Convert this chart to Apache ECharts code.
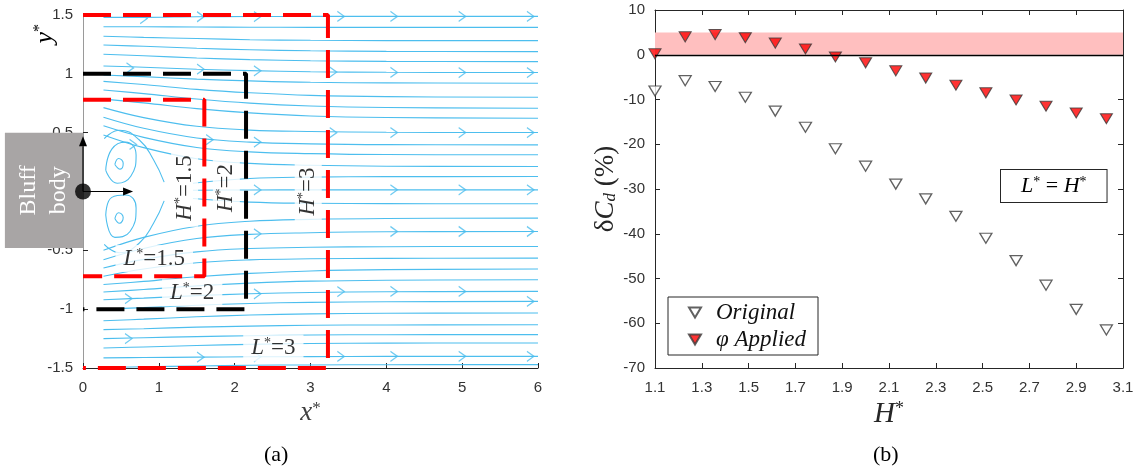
<!DOCTYPE html>
<html><head><meta charset="utf-8">
<script src="https://cdn.jsdelivr.net/npm/echarts@6/dist/echarts.min.js"></script>
<style>html,body{margin:0;padding:0;background:#fff}#c{width:1143px;height:475px}</style>
</head><body><div id="c"></div>
<script>
// ================= DATA =================
// ---- Panel (a): streamlines (x* , y*) ----
const streamX = [0.27, 0.8, 1.5, 2.2, 3.0, 4.0, 6.0];
const upperStreams = [
  [1.480, 1.480, 1.485, 1.487, 1.488, 1.488, 1.488],
  [1.400, 1.400, 1.398, 1.396, 1.395, 1.395, 1.395],
  [1.320, 1.310, 1.300, 1.290, 1.285, 1.282, 1.282],
  [1.245, 1.234, 1.217, 1.205, 1.196, 1.191, 1.189],
  [1.166, 1.154, 1.135, 1.121, 1.111, 1.106, 1.104],
  [1.067, 1.056, 1.039, 1.027, 1.018, 1.013, 1.011],
  [0.990, 0.976, 0.955, 0.940, 0.928, 0.923, 0.920],
  [0.936, 0.909, 0.868, 0.839, 0.817, 0.806, 0.801],
  [0.863, 0.832, 0.786, 0.751, 0.727, 0.714, 0.708],
  [0.785, 0.753, 0.704, 0.668, 0.642, 0.629, 0.623],
  [0.713, 0.628, 0.554, 0.522, 0.510, 0.503, 0.501],
  [0.631, 0.537, 0.455, 0.420, 0.405, 0.398, 0.396],
  [0.558, 0.460, 0.374, 0.337, 0.322, 0.314, 0.312],
  [0.481, 0.373, 0.279, 0.239, 0.223, 0.215, 0.212]
];
const lowerStreams = [
  [-1.494, -1.490, -1.483, -1.477, -1.474, -1.472, -1.471],
  [-1.414, -1.411, -1.408, -1.405, -1.403, -1.401, -1.401],
  [-1.330, -1.321, -1.309, -1.299, -1.292, -1.289, -1.287],
  [-1.250, -1.243, -1.233, -1.226, -1.220, -1.217, -1.216],
  [-1.174, -1.166, -1.153, -1.144, -1.137, -1.134, -1.132],
  [-1.098, -1.085, -1.065, -1.050, -1.040, -1.035, -1.032],
  [-1.000, -0.987, -0.967, -0.952, -0.942, -0.937, -0.934],
  [-0.920, -0.906, -0.885, -0.869, -0.858, -0.852, -0.849],
  [-0.854, -0.833, -0.802, -0.779, -0.762, -0.754, -0.750],
  [-0.790, -0.764, -0.725, -0.696, -0.675, -0.664, -0.659],
  [-0.720, -0.658, -0.605, -0.581, -0.572, -0.568, -0.566],
  [-0.650, -0.577, -0.513, -0.485, -0.474, -0.469, -0.467],
  [-0.580, -0.484, -0.400, -0.364, -0.350, -0.342, -0.340],
  [-0.500, -0.390, -0.295, -0.253, -0.237, -0.229, -0.226]
];
const centerX = [1.45, 2.2, 3.0, 4.0, 6.0];
const centerStreams = [
  [0.070, 0.110, 0.122, 0.126, 0.127],
  [0.010, 0.013, 0.014, 0.014, 0.014],
  [-0.060, -0.090, -0.100, -0.103, -0.104]
];
const vortexCurves = [
  [[0.42,0.23],[0.47,0.28],[0.53,0.24],[0.49,0.19],[0.42,0.23]],
  [[0.30,0.18],[0.38,0.36],[0.56,0.42],[0.70,0.31],[0.63,0.13],[0.45,0.07],[0.30,0.18]],
  [[0.28,0.45],[0.48,0.52],[0.74,0.44],[0.93,0.27],[1.07,0.08]],
  [[0.42,-0.23],[0.47,-0.18],[0.53,-0.22],[0.48,-0.27],[0.42,-0.23]],
  [[0.30,-0.20],[0.38,-0.05],[0.56,-0.03],[0.70,-0.14],[0.62,-0.34],[0.42,-0.39],[0.30,-0.20]],
  [[0.28,-0.45],[0.48,-0.52],[0.74,-0.44],[0.93,-0.27],[1.07,-0.08]]
];
const arrowPoints = [
  [0.80,1.47],[1.55,1.485],[2.30,1.487],[3.40,1.488],[4.10,1.488],[5.00,1.488],[5.90,1.488],
  [0.62,1.05],[1.55,1.04],[2.30,1.026],[3.30,1.015],[4.10,1.012],[5.00,1.011],[5.90,1.011],
  [0.66,0.40],[1.67,0.44],[2.30,0.42],[3.30,0.50],[4.10,0.501],[5.00,0.501],[5.90,0.501],
  [2.30,0.013],[4.10,0.014],[5.00,0.014],[5.90,0.014],
  [2.30,-0.36],[4.10,-0.34],[5.00,-0.34],[5.90,-0.34],
  [0.60,-0.91],[2.30,-0.87],[3.40,-0.85],[4.10,-0.849],[5.00,-0.849],[5.90,-0.934],
  [0.60,-1.25],[1.55,-1.408],[2.30,-1.405],[3.40,-1.402],[4.10,-1.401],[5.00,-1.401],[5.90,-1.401]
];
// control-volume boxes (x*, y*)
const boxH15 = [[0,0.78],[1.60,0.78],[1.60,-0.72],[0,-0.72]];
const boxH2  = [[0,1.00],[2.15,1.00],[2.15,-1.00],[0,-1.00]];
const boxH3  = [[0,1.50],[3.23,1.50],[3.23,-1.50],[0,-1.50]];
const bluffBody = [[-1.03, 0.50, 0, -0.48]];
const originPoint = [[0, 0]];
const axisArrowEnds = [[0.66, 0], [0, 0.47]];

// ---- Panel (b) ----
const Hstar = [1.1, 1.229, 1.357, 1.486, 1.614, 1.743, 1.871, 2.0, 2.129, 2.257, 2.386, 2.514, 2.643, 2.771, 2.9, 3.029];
const originalCd = [-8.1, -5.8, -7.1, -9.5, -12.6, -16.2, -21.0, -24.9, -28.9, -32.2, -36.1, -41.0, -46.0, -51.5, -56.9, -61.5];
const appliedCd  = [0.2, 4.0, 4.5, 3.8, 2.6, 1.3, -0.5, -1.8, -3.6, -5.2, -6.8, -8.5, -10.1, -11.5, -13.0, -14.3];
const bandLimits = [0, 5];

// ================= STYLE =================
const SERIF = '"Liberation Serif","DejaVu Serif",serif';
const SANS = '"Liberation Sans",Arial,sans-serif';
const STREAM = '#4DBEEE';
const AXIS = '#262626';
const TRI = 'path://M0,0L12,0L6,10Z';
const CHEV = 'path://M0,0L8,5L0,10';

function mathRich(size, color) {
  return {
    i: {fontFamily: SERIF, fontStyle: 'italic', fontSize: size, color: color},
    n: {fontFamily: SERIF, fontSize: size, color: color},
    s: {fontFamily: SERIF, fontSize: Math.round(size * 0.62), color: color, verticalAlign: 'top'},
    d: {fontFamily: SERIF, fontStyle: 'italic', fontSize: Math.round(size * 0.62), color: color, verticalAlign: 'bottom'}
  };
}

const chart = echarts.init(document.getElementById('c'));
const series = [];

function streamSeries(xs, ys) {
  return {type: 'line', xAxisIndex: 0, yAxisIndex: 0, data: xs.map((x, i) => [x, ys[i]]),
    smooth: 0.4, symbol: 'none', silent: true, z: 2, animation: false,
    lineStyle: {color: STREAM, width: 1.1}};
}
upperStreams.forEach(ys => series.push(streamSeries(streamX, ys)));
lowerStreams.forEach(ys => series.push(streamSeries(streamX, ys)));
centerStreams.forEach(ys => series.push(streamSeries(centerX, ys)));
vortexCurves.forEach(pts => series.push({type: 'line', xAxisIndex: 0, yAxisIndex: 0, data: pts,
  smooth: 0.5, symbol: 'none', silent: true, z: 2, animation: false, lineStyle: {color: STREAM, width: 1.1}}));

series.push({type: 'scatter', xAxisIndex: 0, yAxisIndex: 0, data: arrowPoints, symbol: CHEV, symbolSize: [7, 10],
  silent: true, z: 3, animation: false,
  itemStyle: {color: 'rgba(0,0,0,0)', borderColor: STREAM, borderWidth: 1.2}});

function boxSeries(pts, color) {
  return {type: 'line', xAxisIndex: 0, yAxisIndex: 0, data: pts, symbol: 'none', silent: true,
    clip: false, z: 6, animation: false, lineStyle: {color: color, width: 4, type: [28, 12], cap: 'butt'}};
}
series.push(boxSeries(boxH3, '#FF0000'));
series.push(boxSeries(boxH2, '#000000'));
series.push(boxSeries(boxH15, '#FF0000'));

// region labels
const labelRich = mathRich(23, '#000');
function lab(x, y, text, rot) {
  return {value: [x, y], label: {show: true, position: 'inside', formatter: text, rotate: rot || 0,
    backgroundColor: '#fff', padding: rot ? [2, 6] : [2, 8], rich: labelRich}};
}
series.push({type: 'scatter', xAxisIndex: 0, yAxisIndex: 0, symbolSize: 1, silent: true, z: 5,
  itemStyle: {color: 'rgba(0,0,0,0)'}, animation: false,
  data: [
    lab(1.34, 0.03, '{i|H}{s|*}{n|=1.5}', 90),
    lab(1.89, 0.03, '{i|H}{s|*}{n|=2}', 90),
    lab(2.97, 0.00, '{i|H}{s|*}{n|=3}', 90),
    lab(0.94, -0.57, '{i|L}{s|*}{n|=1.5}'),
    lab(1.44, -0.86, '{i|L}{s|*}{n|=2}'),
    lab(2.51, -1.33, '{i|L}{s|*}{n|=3}')
  ]});

// bluff body
series.push({type: 'custom', xAxisIndex: 0, yAxisIndex: 0, data: bluffBody, clip: false, z: 8, silent: true,
  animation: false,
  renderItem: function (params, api) {
    const p1 = api.coord([api.value(0), api.value(1)]);
    const p2 = api.coord([api.value(2), api.value(3)]);
    return {type: 'group', children: [
      {type: 'rect', shape: {x: p1[0], y: p1[1], width: p2[0] - p1[0], height: p2[1] - p1[1]},
        style: {fill: '#A8A5A5'}},
      {type: 'text', x: (p1[0] + p2[0]) / 2, y: (p1[1] + p2[1]) / 2, rotation: Math.PI / 2,
        style: {text: 'Bluff\nbody', fill: '#fff', font: '24px ' + SERIF, align: 'center',
          verticalAlign: 'middle', lineHeight: 30}}
    ]};
  }});

// axis arrows from the origin
series.push({type: 'custom', xAxisIndex: 0, yAxisIndex: 0, data: axisArrowEnds, clip: false, z: 9, silent: true,
  animation: false,
  renderItem: function (params, api) {
    const o = api.coord(originPoint[0]);
    const e = api.coord([api.value(0), api.value(1)]);
    const dx = e[0] - o[0], dy = e[1] - o[1];
    const len = Math.sqrt(dx * dx + dy * dy), ux = dx / len, uy = dy / len;
    const hl = 10, hw = 4;
    const b = [e[0] - ux * hl, e[1] - uy * hl];
    return {type: 'group', children: [
      {type: 'line', shape: {x1: o[0], y1: o[1], x2: b[0], y2: b[1]}, style: {stroke: '#000', lineWidth: 1.2}},
      {type: 'polygon', shape: {points: [e, [b[0] - uy * hw, b[1] + ux * hw], [b[0] + uy * hw, b[1] - ux * hw]]},
        style: {fill: '#000'}}
    ]};
  }});
series.push({type: 'scatter', xAxisIndex: 0, yAxisIndex: 0, data: originPoint, symbolSize: 16, clip: false,
  z: 10, silent: true, animation: false, itemStyle: {color: '#000'}});

// ---- panel (b) series ----
series.push({type: 'line', name: '_band', xAxisIndex: 1, yAxisIndex: 1, data: [], z: 1, silent: true,
  markArea: {silent: true, itemStyle: {color: '#FFBFBF'},
    data: [[{coord: [1.1, bandLimits[0]]}, {coord: [3.1, bandLimits[1]]}]]},
  markLine: {silent: true, symbol: 'none', animation: false, label: {show: false},
    lineStyle: {color: '#000', width: 1.4, type: 'solid'}, data: [{yAxis: 0}]}});
series.push({type: 'scatter', name: 'Original', xAxisIndex: 1, yAxisIndex: 1, z: 4, clip: false,
  data: Hstar.map((h, i) => [h, originalCd[i]]), symbol: TRI, symbolSize: [12, 10], animation: false,
  itemStyle: {color: '#fff', borderColor: '#3a3a3a', borderWidth: 1.3}});
series.push({type: 'scatter', name: 'φ Applied', xAxisIndex: 1, yAxisIndex: 1, z: 4, clip: false,
  data: Hstar.map((h, i) => [h, appliedCd[i]]), symbol: TRI, symbolSize: [12, 10], animation: false,
  itemStyle: {color: '#FF0000', borderColor: '#3a3a3a', borderWidth: 1.1}});

const tickLabel = {fontFamily: SANS, fontSize: 15, color: '#333'};
const option = {
  animation: false,
  backgroundColor: '#fff',
  grid: [
    {left: 83, top: 15, width: 455, height: 353},
    {left: 655, top: 10, width: 468, height: 358}
  ],
  xAxis: [
    {gridIndex: 0, type: 'value', min: 0, max: 6, interval: 1,
      axisLine: {onZero: false, lineStyle: {color: AXIS}}, axisTick: {inside: true, length: 5, lineStyle: {color: AXIS}},
      splitLine: {show: false}, axisLabel: Object.assign({margin: 12}, tickLabel),
      name: '{i|x}{s|*}', nameLocation: 'middle', nameGap: 27, nameTextStyle: {rich: mathRich(27, '#404040')}},
    {gridIndex: 1, type: 'value', min: 1.1, max: 3.1, interval: 0.2,
      axisLine: {onZero: false, lineStyle: {color: AXIS}}, axisTick: {inside: true, length: 5, lineStyle: {color: AXIS}},
      splitLine: {show: false},
      axisLabel: Object.assign({margin: 12, formatter: v => v.toFixed(1)}, tickLabel),
      name: '{i|H}{s|*}', nameLocation: 'middle', nameGap: 26, nameTextStyle: {rich: mathRich(29, '#262626')}},
    {gridIndex: 1, type: 'value', position: 'top', min: 1.1, max: 3.1, interval: 0.2,
      axisLine: {onZero: false, lineStyle: {color: AXIS}}, axisTick: {inside: true, length: 5, lineStyle: {color: AXIS}},
      splitLine: {show: false}, axisLabel: {show: false}}
  ],
  yAxis: [
    {gridIndex: 0, type: 'value', min: -1.5, max: 1.5, interval: 0.5,
      axisLine: {show: true, onZero: false, lineStyle: {color: '#9a9a9a'}},
      axisTick: {show: true, inside: true, length: 5, lineStyle: {color: AXIS}},
      splitLine: {show: false}, axisLabel: Object.assign({margin: 10}, tickLabel)},
    {gridIndex: 1, type: 'value', min: -70, max: 10, interval: 10,
      axisLine: {show: true, onZero: false, lineStyle: {color: AXIS}},
      axisTick: {show: true, inside: true, length: 5, lineStyle: {color: AXIS}},
      splitLine: {show: false}, axisLabel: Object.assign({margin: 10}, tickLabel),
      name: '{n|δ}{i|C}{d|d}{n| (%)}', nameLocation: 'middle', nameRotate: 90, nameGap: 26,
      nameTextStyle: {rich: mathRich(27, '#262626')}},
    {gridIndex: 1, type: 'value', position: 'right', min: -70, max: 10, interval: 10,
      axisLine: {show: true, onZero: false, lineStyle: {color: AXIS}},
      axisTick: {show: true, inside: true, length: 5, lineStyle: {color: AXIS}},
      splitLine: {show: false}, axisLabel: {show: false}}
  ],
  legend: {
    left: 668, top: 297, orient: 'vertical', backgroundColor: '#fff',
    borderColor: '#262626', borderWidth: 1, borderRadius: 0, padding: [4, 12, 4, 20],
    itemGap: 4, itemWidth: 12, itemHeight: 10, selectedMode: false,
    data: [{name: 'Original', icon: TRI}, {name: 'φ Applied', icon: TRI}],
    formatter: name => '{i|' + name + '}',
    textStyle: {padding: [0, 0, 0, 10], rich: {i: {fontFamily: SERIF, fontStyle: 'italic', fontSize: 23, color: '#111', lineHeight: 26}}}
  },
  graphic: [
    {type: 'text', left: 32, top: 24, rotation: Math.PI / 2,
      style: {text: '{i|y}{s|*}', rich: mathRich(26, '#404040')}},
    {type: 'text', left: 1000, top: 169, z: 10,
      style: {text: '{i|L}{s|*}{n| = }{i|H}{s|*}', rich: mathRich(22, '#111'),
        backgroundColor: '#fff', borderColor: '#262626', borderWidth: 1, padding: [5, 20, 5, 20]}},
    {type: 'text', left: 264, top: 444, style: {text: '(a)', font: '22px ' + SERIF, fill: '#000'}},
    {type: 'text', left: 873, top: 444, style: {text: '(b)', font: '22px ' + SERIF, fill: '#000'}}
  ],
  series: series
};
chart.setOption(option);
</script>
</body></html>
